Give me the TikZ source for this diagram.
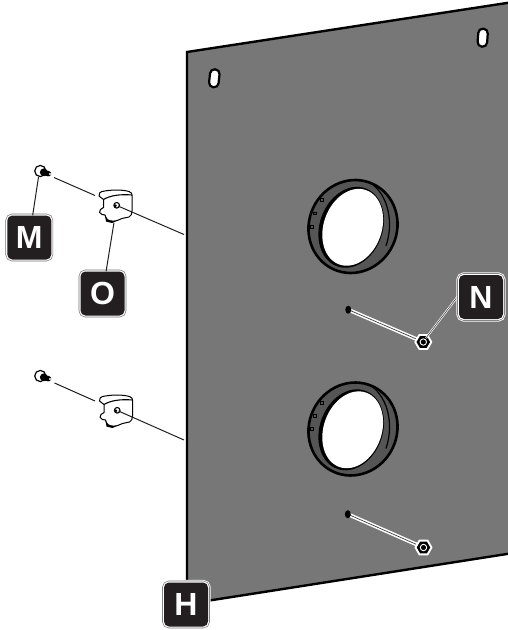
\documentclass[tikz,border=0pt]{standalone}
\usepackage{fontspec}
\setmainfont{Liberation Sans}
\usetikzlibrary{shapes.geometric}
\definecolor{panelgray}{HTML}{777777}
\definecolor{ringgray}{HTML}{555555}
\definecolor{boxblack}{HTML}{231F20}
\tikzset{
  panel/.style={draw=black,line width=2.4pt,fill=panelgray,line join=miter},
  slotbox/.style={draw=black,line width=2.2pt,fill=white,rectangle,rounded corners=4.5pt,minimum width=9.5pt,minimum height=18pt,inner sep=0pt},
  thinline/.style={draw=boxblack,line width=1pt},
  labelbox/.style={rectangle,rounded corners=5pt,minimum size=44pt,inner sep=0pt,
    preaction={draw=white,line width=5.4pt},
    preaction={draw=black!55,line width=3.7pt},
    preaction={draw=white,line width=2.4pt},
    fill=boxblack,text=white,font=\fontsize{32}{32}\selectfont\bfseries},
  nutouter/.style={regular polygon,regular polygon sides=6,fill=white,draw=white,line join=round,line width=1pt,minimum size=17pt,inner sep=0pt},
  nutinner/.style={regular polygon,regular polygon sides=6,fill=black,minimum size=13.5pt,inner sep=0pt},
  holedot/.style={ellipse,fill=black,minimum width=6pt,minimum height=8pt,inner sep=0pt}
}
\newcommand{\ringpart}[1]{%
  \begin{scope}[yshift=-#1pt]
  \draw[draw=black,line width=2.6pt,fill=ringgray,rotate around={65:(353,226.5)}] (353,226.5) ellipse (47 and 44);
  \foreach \tx/\ty in {321.7/200,315/213.3,311.7/226.7}{
    \draw[black,line width=0.8pt] (\tx-1.6,\ty-1.4) rectangle (\tx+1.6,\ty+1.4);}
  \draw[draw=black,line width=1.2pt] (372,184) .. controls (388,196) and (394,222) .. (386,246);
  \fill[black,rotate around={70:(351.2,227.3)}] (351.2,227.3) ellipse (41.5 and 31.5);
  \fill[white,rotate around={70:(352.7,227.3)}] (352.7,227.3) ellipse (39.5 and 29);
  \end{scope}}
\newcommand{\clippart}[2]{%
  \begin{scope}[shift={(#1,#2)}]
  \draw[draw=black,line width=1pt,fill=white,line join=round]
    (99,196) .. controls (99,193) and (100,192) .. (102,191.5)
    .. controls (112,189.5) and (122,189.5) .. (129,191.5)
    .. controls (131.5,192.5) and (132.2,193.5) .. (132.2,196)
    -- (132,211) .. controls (132,214) and (131,216) .. (129,217)
    .. controls (125,218) and (122,218) .. (118.5,220)
    .. controls (115,221.5) and (111,221.5) .. (108,220)
    .. controls (106,219) and (105.5,217) .. (105,215)
    -- (102,214.5) .. controls (99.5,214) and (98.5,211) .. (100.5,209.5)
    -- (103.5,207.5) -- (103.5,199.5) -- cycle;
  \draw[line width=1.1pt] (103.5,199.5) .. controls (110,195.5) and (120,194) .. (132,195);
  \fill[black] (105,215) -- (108,220) .. controls (111,221.5) and (115,221.5) .. (118.5,220) -- (112,223) -- (106,221.5) -- cycle;
  \draw[line width=1.1pt,fill=white] (116.7,205.3) circle (2.8);
  \fill[black] (115.4,205.8) circle (1.5);
  \end{scope}}
\newcommand{\screwpart}[1]{%
  \begin{scope}[yshift=-#1pt]
  \draw[draw=black,line width=1.2pt,fill=white] (40.3,171) circle (5.6);
  \fill[black] (43.8,172.3) circle (3.9);
  \draw[black,line width=5.4pt,line cap=round] (44,172.5) -- (48.5,173.7);
  \fill[white] (50,173.9) circle (1.1);
  \end{scope}}
\begin{document}
\begin{tikzpicture}[x=1pt,y=-1pt]
\useasboundingbox (0,0) rectangle (508,630);
% panel
\path[panel] (187,52) -- (510,2.5) -- (510,553.5) -- (187,604) -- cycle;
\node[slotbox,rotate=-6] (slotA) at (214.3,78.3) {};
\node[slotbox,rotate=-4] (slotB) at (482.7,37.7) {};
% rings
\ringpart{0}
\ringpart{202.5}
% studs and nuts
\coordinate (holeA) at (349,310);
\coordinate (holeB) at (348.5,514.5);
\coordinate (nutA) at (423.3,342);
\coordinate (nutB) at (423.5,547.5);
\draw[white,line width=3.8pt] (holeA) -- (nutA);
\draw[black!75,line width=0.7pt] (holeA) -- (nutA);
\draw[white,line width=3.8pt] (holeB) -- (nutB);
\draw[black!75,line width=0.7pt] (holeB) -- (nutB);
\node[holedot] (dotA) at (348.3,309.7) {};
\node[holedot] (dotB) at (347.8,514.2) {};
\node[nutouter] (nutAo) at (nutA) {};
\node[nutinner] (nutAi) at (nutA) {};
\node[nutouter] (nutBo) at (nutB) {};
\node[nutinner] (nutBi) at (nutB) {};
\draw[white,line width=0.9pt] (nutA) circle (3.2);
\draw[white,line width=0.9pt] (nutB) circle (3.2);
% parts
\screwpart{0}
\screwpart{205}
\clippart{0}{0}
\clippart{0.5}{205}
% coordinates for leaders
\coordinate (scA) at (54,177.5);
\coordinate (clAl) at (95,195.5);
\coordinate (clAc) at (118,206);
\coordinate (wallA) at (184,234.5);
\coordinate (scB) at (54.5,383);
\coordinate (clBl) at (95,401);
\coordinate (clBc) at (118.5,411);
\coordinate (wallB) at (184,440);
\coordinate (scAb) at (38.5,177);
\coordinate (clAb) at (114,222.5);
\draw[thinline] (scA) -- (clAl);
\draw[thinline] (clAc) -- (wallA);
\draw[thinline] (scB) -- (clBl);
\draw[thinline] (clBc) -- (wallB);
% labels
\node[labelbox] (M) at (29.3,237.5) {M};
\node[labelbox] (O) at (102.5,293.5) {O};
\coordinate (nutTip) at (426,338);
\draw[white,line width=2pt] (nutTip) -- (458,296);
\draw[black!70,line width=0.6pt] (nutTip) -- (458,296);
\node[labelbox] (N) at (481,297) {N};
\node[labelbox] (H) at (186,604.5) {H};
\draw[thinline] (scAb) -- (M);
\draw[thinline] (clAb) -- (O);
\end{tikzpicture}
\end{document}
